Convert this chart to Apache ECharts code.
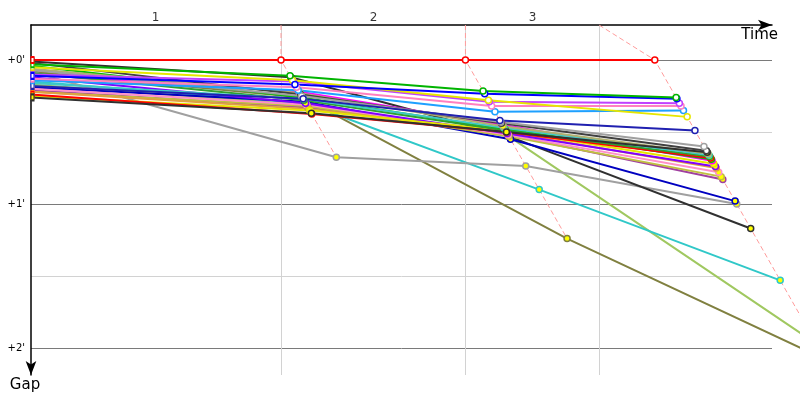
<!DOCTYPE html>
<html><head><meta charset="utf-8">
<script src="https://cdn.jsdelivr.net/npm/echarts@6/dist/echarts.min.js"></script>
<style>html,body{margin:0;padding:0;background:#fff}#c{width:800px;height:400px}</style>
</head><body><div id="c"></div>
<script>
// ---- data (time axis in minutes, gaps in minutes) ----
const stageNames = ['1', '2', '3'];
const stageLabelPos = [1.52, 4.18, 6.12];
const stageBoundaries = [3.05, 5.30, 6.93];
const leaderTimes = [0, 3.05, 5.30, 7.61];
const yTickValues = [0, 1, 2];
const yTickLabels = ["+0'", "+1'", "+2'"];
const yMinorValues = [0.5, 1.5];
const xRange = [0, 9.04];
const yRange = [-0.243, 2.1875];

const gapStart  = [0.08, 0.17, 0.15, 0.08, 0.01, 0.19, 0.21, 0.22, 0.20, 0.22, 0.12, 0.25, 0.10, 0.04, 0.24, 0.09, 0.16, 0.06, 0.26, 0.02, 0.07, 0.18, 0.14, 0.13, 0.10, 0.05, 0.11, 0.03, 0];
const gapStage1 = [0.26, 0.31, 0.30, 0.675, 0.12, 0.29, 0.33, 0.32, 0.31, 0.34, 0.30, 0.35, 0.22, 0.26, 0.375, 0.28, 0.27, 0.23, 0.37, 0.24, 0.25, 0.27, 0.21, 0.19, 0.15, 0.14, 0.17, 0.11, 0];
const gapStage2 = [1.24, 0.53, 0.90, 0.736, 0.53, 0.55, 0.52, 0.53, 0.52, 0.50, 0.51, 0.49, 0.45, 0.48, 0.50, 0.49, 0.47, 0.46, 0.50, 0.44, 0.43, 0.42, 0.36, 0.32, 0.29, 0.28, 0.235, 0.215, 0];
const gapStage3 = [2.08, 1.97, 1.53, 1.00, 1.17, 0.98, 0.83, 0.81, 0.78, 0.75, 0.74, 0.72, 0.70, 0.69, 0.68, 0.67, 0.66, 0.65, 0.64, 0.63, 0.60, 0.49, 0.35, 0.32, 0.30, 0.395, 0.27, 0.26, 0];

// ---- styles ----
const riderColors = ['#808040', '#a0c860', '#30c8c8', '#a0a0a0', '#303030', '#0000c0', '#a040a0', '#c0c040', '#ff90c8', '#e0a040', '#8000ff', '#e6e600', '#ff00ff', '#00c000', '#ff0000', '#30a030', '#40c8c8', '#b0b070', '#303030', '#404040', '#a0a0a0', '#2020b0', '#1ea0ff', '#ff80c0', '#c040ff', '#e6e600', '#0000ff', '#00b400', '#ff0000'];
const markerFills = ['#ffff00','#ffff00','#ffff00','#ffff00','#ffff00','#ffff00','#ffff00','#ffff00','#ffff00','#ffff00','#ffff00','#ffff00','#ffff00','#ffff00','#ffff00','#ffff00','#ffff00','#ffff00','#ffff00','#ffffff','#ffffff','#ffffff','#ffffff','#ffffff','#ffffff','#ffffff','#ffffff','#ffffff','#ffffff'];

const FONT = 'DejaVu Sans';
const stageGaps = [gapStage1, gapStage2, gapStage3];

// layout: axes grid (visible) and data grid (runs to the canvas edge so lines leave the plot)
const GL = 31, GT = 25, GB = 25, GR_AXIS = 28, GR_DATA = 0, W = 800;
const axisWidth = W - GL - GR_AXIS;
const dataWidth = W - GL - GR_DATA;
const xMaxData = xRange[1] * dataWidth / axisWidth;

const series = [];

// stage labels + grid lines (markLine) on the axes grid
const markLineData = [];
yTickValues.forEach((v, i) => markLineData.push({
  yAxis: v, lineStyle: { color: '#7a7a7a', width: 1, type: 'solid' },
  label: { show: true, position: 'start', formatter: yTickLabels[i], distance: 6, fontSize: 10, color: '#000', fontFamily: FONT }
}));
yMinorValues.forEach(v => markLineData.push({
  yAxis: v, lineStyle: { color: '#d2d2d2', width: 1, type: 'solid' }, label: { show: false }
}));
stageBoundaries.forEach(v => markLineData.push({
  xAxis: v, lineStyle: { color: '#d2d2d2', width: 1, type: 'solid' }, label: { show: false }
}));

series.push({
  type: 'scatter', xAxisIndex: 1, yAxisIndex: 1, z: 1, silent: true, symbolSize: 0, clip: false,
  data: stageNames.map((n, i) => ({ value: [stageLabelPos[i], yRange[0]], name: n })),
  label: { show: true, position: 'top', distance: 1, formatter: p => p.name, fontSize: 12, color: '#000', fontFamily: FONT },
  markLine: { symbol: 'none', silent: true, animation: false, z: 0, data: markLineData }
});

// isochrone dashed lines
stageBoundaries.forEach((b, i) => {
  const t = leaderTimes[i + 1];
  const gmax = Math.max.apply(null, stageGaps[i]);
  series.push({
    type: 'line', xAxisIndex: 0, yAxisIndex: 0, z: 2, silent: true, symbol: 'none',
    data: [[b, yRange[0]], [t, 0], [t + gmax, gmax]],
    lineStyle: { color: '#ff9c9c', width: 1, type: [5, 3] }
  });
});

// riders
for (let r = 0; r < gapStart.length; r++) {
  const data = [{
    value: [leaderTimes[0], gapStart[r]],
    symbol: 'rect', symbolSize: [3, 6], symbolOffset: [1.5, 0]
  }];
  stageGaps.forEach((arr, i) => data.push([leaderTimes[i + 1] + arr[r], arr[r]]));
  series.push({
    type: 'line', xAxisIndex: 0, yAxisIndex: 0, z: 3, silent: true,
    data: data,
    symbol: 'circle', symbolSize: 6, showAllSymbol: true,
    lineStyle: { color: riderColors[r], width: 2 },
    itemStyle: { color: markerFills[r], borderColor: riderColors[r], borderWidth: 1.5 }
  });
}

const hiddenAxis = { show: false, axisLine: { show: false }, axisTick: { show: false }, axisLabel: { show: false }, splitLine: { show: false } };

const chart = echarts.init(document.getElementById('c'), null, { renderer: 'canvas' });
chart.setOption({
  backgroundColor: '#fff',
  animation: false,
  grid: [
    { left: GL, top: GT, right: GR_DATA, bottom: GB, containLabel: false },
    { left: GL, top: GT, right: GR_AXIS, bottom: GB, containLabel: false }
  ],
  xAxis: [
    Object.assign({ type: 'value', gridIndex: 0, min: xRange[0], max: xMaxData }, hiddenAxis),
    {
      type: 'value', gridIndex: 1, position: 'top', min: xRange[0], max: xRange[1],
      axisLine: { show: true, onZero: false, lineStyle: { color: '#000', width: 1.5 }, symbol: ['none', 'arrow'], symbolSize: [8, 14] },
      axisTick: { show: false }, axisLabel: { show: false }, splitLine: { show: false },
      name: 'Time', nameLocation: 'end', nameGap: 6,
      nameTextStyle: { fontFamily: FONT, fontSize: 15, color: '#000', align: 'right', verticalAlign: 'top', padding: [3, 0, 0, 0] }
    }
  ],
  yAxis: [
    Object.assign({ type: 'value', gridIndex: 0, inverse: true, min: yRange[0], max: yRange[1] }, hiddenAxis),
    {
      type: 'value', gridIndex: 1, inverse: true, min: yRange[0], max: yRange[1],
      axisLine: { show: true, onZero: false, lineStyle: { color: '#000', width: 1.5 }, symbol: ['arrow', 'none'], symbolSize: [8, 14] },
      axisTick: { show: false }, axisLabel: { show: false }, splitLine: { show: false },
      name: 'Gap', nameLocation: 'end', nameGap: 3,
      nameTextStyle: { fontFamily: FONT, fontSize: 15, color: '#000', align: 'center', verticalAlign: 'top', padding: [0, 12, 0, 0] }
    }
  ],
  series: series
});
</script>
</body></html>
